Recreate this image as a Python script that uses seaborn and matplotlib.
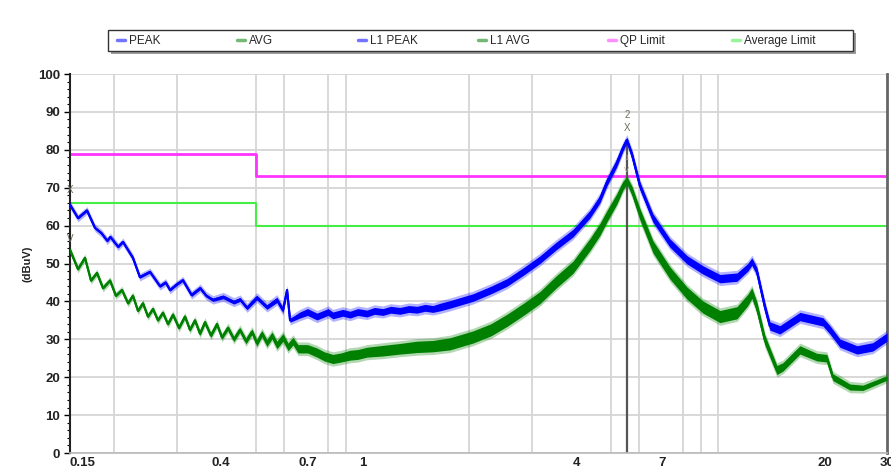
import numpy as np
import pandas as pd
import matplotlib.pyplot as plt
import matplotlib.ticker as mticker
from matplotlib.patches import Rectangle
import seaborn as sns

# PEAK trace (MHz, dBuV); spread = half width of the noisy band
peak_freq = [0.150, 0.158, 0.1675, 0.1764, 0.184, 0.191, 0.195, 0.205, 0.2115, 0.2256,
             0.236, 0.252, 0.269, 0.279, 0.287, 0.300, 0.312, 0.330, 0.349, 0.363,
             0.379, 0.405, 0.434, 0.452, 0.473, 0.504, 0.538, 0.574, 0.597, 0.613,
             0.625, 0.666, 0.70, 0.744, 0.80, 0.825, 0.88, 0.922, 0.97, 1.029,
             1.08, 1.142, 1.20, 1.275, 1.35, 1.423, 1.50, 1.578, 1.653, 1.763,
             2.046, 2.30, 2.552, 2.85, 3.16, 3.50, 3.915, 4.371, 4.664, 4.881,
             5.20, 5.412, 5.554, 5.75, 6.043, 6.576, 7.342, 8.197, 9.094, 10.16,
             11.34, 12.17, 12.49, 12.90, 13.59, 14.04, 14.98, 17.06, 19.80, 20.72,
             22.11, 24.69, 27.37, 30.0]
peak_dbuv = [65.5, 62.0, 64.0, 59.4, 58.0, 56.0, 57.0, 54.4, 55.7, 51.5,
             46.4, 47.8, 44.0, 45.0, 43.0, 44.5, 45.6, 41.7, 43.5, 41.5,
             40.4, 41.2, 39.8, 40.5, 38.3, 41.0, 38.5, 40.4, 37.7, 43.0,
             35.0, 36.4, 37.2, 36.0, 37.2, 36.3, 37.0, 36.5, 37.2, 36.8,
             37.5, 37.2, 37.8, 37.5, 38.0, 37.8, 38.3, 38.0, 38.5, 39.2,
             41.0, 43.0, 45.0, 48.0, 51.0, 54.5, 58.0, 63.0, 67.0, 71.5,
             76.5, 80.5, 82.6, 78.5, 70.5, 62.0, 55.4, 51.0, 48.3, 46.0,
             46.4, 49.0, 50.5, 48.0, 38.5, 33.5, 32.5, 36.0, 34.6, 32.5,
             29.0, 27.2, 28.0, 30.6]
peak_spread = [0.3, 0.3, 0.3, 0.3, 0.3, 0.3, 0.3, 0.3, 0.3, 0.3,
               0.3, 0.3, 0.3, 0.3, 0.3, 0.3, 0.3, 0.4, 0.4, 0.4,
               0.4, 0.5, 0.5, 0.5, 0.5, 0.6, 0.6, 0.7, 0.7, 0.5,
               0.5, 0.8, 0.9, 0.9, 0.9, 0.9, 0.9, 0.9, 0.9, 0.9,
               0.9, 0.9, 0.9, 0.9, 0.9, 0.9, 0.9, 0.9, 1.0, 1.0,
               1.0, 1.0, 1.0, 1.0, 1.0, 1.0, 1.0, 1.0, 1.0, 1.0,
               1.0, 0.9, 0.7, 0.9, 1.0, 1.1, 1.1, 1.1, 1.1, 1.1,
               1.1, 1.0, 1.0, 1.0, 1.1, 1.1, 1.1, 1.1, 1.1, 1.1,
               1.1, 1.1, 1.1, 1.1]

# AVG trace
avg_freq = [0.150, 0.158, 0.1653, 0.1719, 0.1787, 0.1858, 0.1945, 0.202, 0.2102, 0.2186,
            0.2256, 0.2331, 0.2408, 0.2487, 0.257, 0.2654, 0.2741, 0.2832, 0.2925, 0.3042,
            0.3162, 0.3266, 0.3374, 0.3485, 0.360, 0.3742, 0.3891, 0.4019, 0.4179, 0.4344,
            0.4517, 0.4697, 0.4884, 0.504, 0.5209, 0.538, 0.5561, 0.574, 0.597, 0.617,
            0.637, 0.658, 0.70, 0.744, 0.78, 0.825, 0.87, 0.922, 0.97, 1.029,
            1.142, 1.275, 1.423, 1.578, 1.763, 2.046, 2.30, 2.552, 2.85, 3.16,
            3.50, 3.915, 4.371, 4.664, 4.881, 5.20, 5.412, 5.554, 5.75, 6.043,
            6.576, 7.342, 8.197, 9.094, 10.16, 11.34, 12.17, 12.49, 12.90, 13.59,
            14.69, 15.27, 17.06, 19.04, 20.32, 21.12, 23.59, 25.66, 30.0]
avg_dbuv = [53.6, 48.5, 51.5, 45.5, 47.5, 43.5, 45.5, 41.5, 43.0, 39.5,
            41.5, 37.5, 39.5, 36.0, 38.0, 35.0, 37.0, 34.0, 36.5, 33.0,
            36.0, 32.5, 35.0, 31.5, 34.5, 31.0, 34.0, 30.5, 33.0, 30.0,
            32.5, 29.5, 32.0, 29.0, 31.5, 29.0, 31.0, 28.5, 30.5, 28.0,
            29.5, 27.5, 27.5, 26.5, 25.5, 24.8, 25.2, 25.8, 26.0, 26.6,
            27.0, 27.5, 28.0, 28.2, 28.8, 30.6, 32.5, 35.0, 38.0, 41.0,
            45.0, 49.0, 55.0, 59.0, 62.5, 67.0, 70.5, 72.0, 69.0, 63.0,
            54.4, 47.5, 42.2, 38.5, 36.0, 37.0, 40.4, 42.2, 38.5, 29.8,
            21.9, 22.7, 27.2, 25.3, 25.0, 20.0, 17.4, 17.2, 19.8]
avg_spread = [0.3, 0.3, 0.3, 0.3, 0.3, 0.3, 0.3, 0.3, 0.3, 0.3,
              0.3, 0.3, 0.3, 0.3, 0.3, 0.3, 0.3, 0.3, 0.4, 0.4,
              0.4, 0.4, 0.4, 0.5, 0.5, 0.5, 0.5, 0.5, 0.6, 0.6,
              0.6, 0.7, 0.7, 0.8, 0.8, 0.9, 0.9, 1.0, 1.0, 1.0,
              1.0, 1.1, 1.1, 1.2, 1.2, 1.2, 1.2, 1.3, 1.3, 1.3,
              1.4, 1.4, 1.5, 1.5, 1.6, 1.6, 1.6, 1.6, 1.6, 1.6,
              1.6, 1.6, 1.6, 1.6, 1.5, 1.4, 1.2, 1.0, 1.2, 1.5,
              1.6, 1.6, 1.6, 1.6, 1.6, 1.6, 1.5, 1.4, 1.4, 1.3,
              1.2, 1.1, 1.1, 1.0, 1.0, 0.9, 0.8, 0.7, 0.6]

# limit lines, stepping down at 0.5 MHz
limit_freq = [0.15, 0.5, 30.0]
qp_limit = [79, 73, 73]
avg_limit = [66, 60, 60]

marker_freq = 5.554
marker_level = 82.6

x_ticks = [0.15, 0.4, 0.7, 1, 4, 7, 20, 30]
x_tick_labels = ['0.15', '0.4', '0.7', '1', '4', '7', '20', '30']
grid_freqs = [0.2, 0.3, 0.4, 0.5, 0.6, 0.7, 0.8, 0.9, 1, 2, 3, 4, 5, 6, 7, 8, 9, 10, 20, 30]
y_ticks = list(range(0, 101, 10))
legend_names = ['PEAK', 'AVG', 'L1 PEAK', 'L1 AVG', 'QP Limit', 'Average Limit']

BLUE = '#0000ff'
GREEN = '#008000'
PINK = '#ff33ff'
LIME = '#44ee44'

sns.set_theme(style='white')
plt.rcParams['font.family'] = ['Liberation Sans', 'DejaVu Sans']

peak = pd.DataFrame({'freq': peak_freq, 'dbuv': peak_dbuv, 'spread': peak_spread})
avg = pd.DataFrame({'freq': avg_freq, 'dbuv': avg_dbuv, 'spread': avg_spread})
limits = pd.DataFrame({'freq': limit_freq, 'qp': qp_limit, 'avg': avg_limit})

W, H = 891, 475
fig = plt.figure(figsize=(W / 100, H / 100), dpi=100)
ax = fig.add_axes([70 / W, 1 - 453 / H, 817 / W, 379 / H])

ax.set_xscale('log')
ax.set_xlim(0.15, 30)
ax.set_ylim(0, 100)

# limits first so the traces sit on top
sns.lineplot(data=limits, x='freq', y='qp', ax=ax, color=PINK, lw=2.0,
             drawstyle='steps-post', label='QP Limit', zorder=2)
sns.lineplot(data=limits, x='freq', y='avg', ax=ax, color=LIME, lw=1.5,
             drawstyle='steps-post', label='Average Limit', zorder=2)

ax.vlines(marker_freq, 0, marker_level, color='#555555', lw=1.6, zorder=2.5)


def noisy_band(df, color, z):
    # soft outer fuzz, then the solid core
    ax.fill_between(df['freq'], df['dbuv'] - df['spread'] - 0.7, df['dbuv'] + df['spread'] + 0.7,
                    color=color, lw=0, alpha=0.3, zorder=z)
    ax.fill_between(df['freq'], df['dbuv'] - df['spread'], df['dbuv'] + df['spread'],
                    color=color, lw=0, zorder=z)


noisy_band(avg, GREEN, 3)
sns.lineplot(data=avg, x='freq', y='dbuv', ax=ax, color=GREEN, lw=1.5, label='AVG', zorder=3)
sns.lineplot(data=avg, x='freq', y='dbuv', ax=ax, color=GREEN, lw=1.5, label='L1 AVG', zorder=3)

noisy_band(peak, BLUE, 4)
sns.lineplot(data=peak, x='freq', y='dbuv', ax=ax, color=BLUE, lw=1.5, label='PEAK', zorder=4)
sns.lineplot(data=peak, x='freq', y='dbuv', ax=ax, color=BLUE, lw=1.5, label='L1 PEAK', zorder=4)

# marker labels
mk = dict(color='#6e6a5a', fontsize=7, ha='center', va='center', zorder=6)
ax.text(marker_freq, marker_level + 6.5, '2', **mk)
ax.text(marker_freq, marker_level + 3.2, 'X', **mk)
ax.text(marker_freq, 77.8, '1', fontsize=5.5, color='#b0a890', ha='center', va='center', zorder=7)
ax.text(marker_freq, 74.6, 'V', fontsize=5.5, color='#b0a890', ha='center', va='center', zorder=7)
ax.text(0.15, 69.5, 'X', **mk)
ax.text(0.15, 56.5, 'V', **mk)

# ticks and grid
ax.xaxis.set_major_locator(mticker.FixedLocator(x_ticks))
ax.xaxis.set_major_formatter(mticker.FixedFormatter(x_tick_labels))
ax.xaxis.set_minor_locator(mticker.FixedLocator(grid_freqs))
ax.xaxis.set_minor_formatter(mticker.NullFormatter())
ax.set_yticks(y_ticks)
ax.yaxis.set_minor_locator(mticker.MultipleLocator(2))
ax.grid(True, which='major', axis='y', color='#d6d6d6', lw=1.3, zorder=0)
ax.grid(True, which='minor', axis='x', color='#d6d6d6', lw=1.3, zorder=0)
ax.set_axisbelow(True)

ax.tick_params(axis='x', which='major', length=0, pad=3, labelsize=9.5)
ax.tick_params(axis='x', which='minor', length=0)
ax.tick_params(axis='y', which='major', length=4, width=1, color='black', pad=3,
               labelsize=9.5, left=True, direction='out')
ax.tick_params(axis='y', which='minor', length=2, width=0.8, color='black', left=True,
               direction='out')
for lab in ax.get_xticklabels() + ax.get_yticklabels():
    lab.set_fontweight('bold')
    lab.set_color('#222222')
ax.get_xticklabels()[0].set_horizontalalignment('left')
ax.get_xticklabels()[0].set_x(0.146)

ax.spines['left'].set_color('#222222')
ax.spines['left'].set_linewidth(1.5)
ax.spines['bottom'].set_color('#bbbbbb')
ax.spines['right'].set_color('#666666')
ax.spines['right'].set_linewidth(2)
ax.spines['top'].set_visible(False)

ax.set_xlabel('')
ax.set_ylabel('(dBuV)', fontsize=8, fontweight='bold', color='#222222', labelpad=4)

# legend across the top: one framed strip, entries at fixed slots
handles, labels = ax.get_legend_handles_labels()
hmap = dict(zip(labels, handles))
ax.get_legend().remove()

fig.add_artist(Rectangle((111 / W, 1 - 54 / H), 745 / W, 21 / H, transform=fig.transFigure,
                         facecolor='#9a9a9a', edgecolor='none', zorder=1))
fig.add_artist(Rectangle((108 / W, 1 - 51 / H), 745 / W, 21 / H, transform=fig.transFigure,
                         facecolor='white', edgecolor='#333333', lw=1.0, zorder=2))
slots = [117, 237, 358, 478, 608, 732]
for name, sx in zip(legend_names, slots):
    leg = fig.legend([hmap[name]], [name], loc='center left',
                     bbox_to_anchor=(sx / W, 1 - 41 / H), frameon=False, fontsize=8.5,
                     handlelength=0.7, handletextpad=0.3, borderaxespad=0, borderpad=0)
    leg.set_zorder(3)
    for line in leg.get_lines():
        line.set_linewidth(2.5)
        line.set_alpha(0.55)

fig.savefig('out.png', dpi=100)
